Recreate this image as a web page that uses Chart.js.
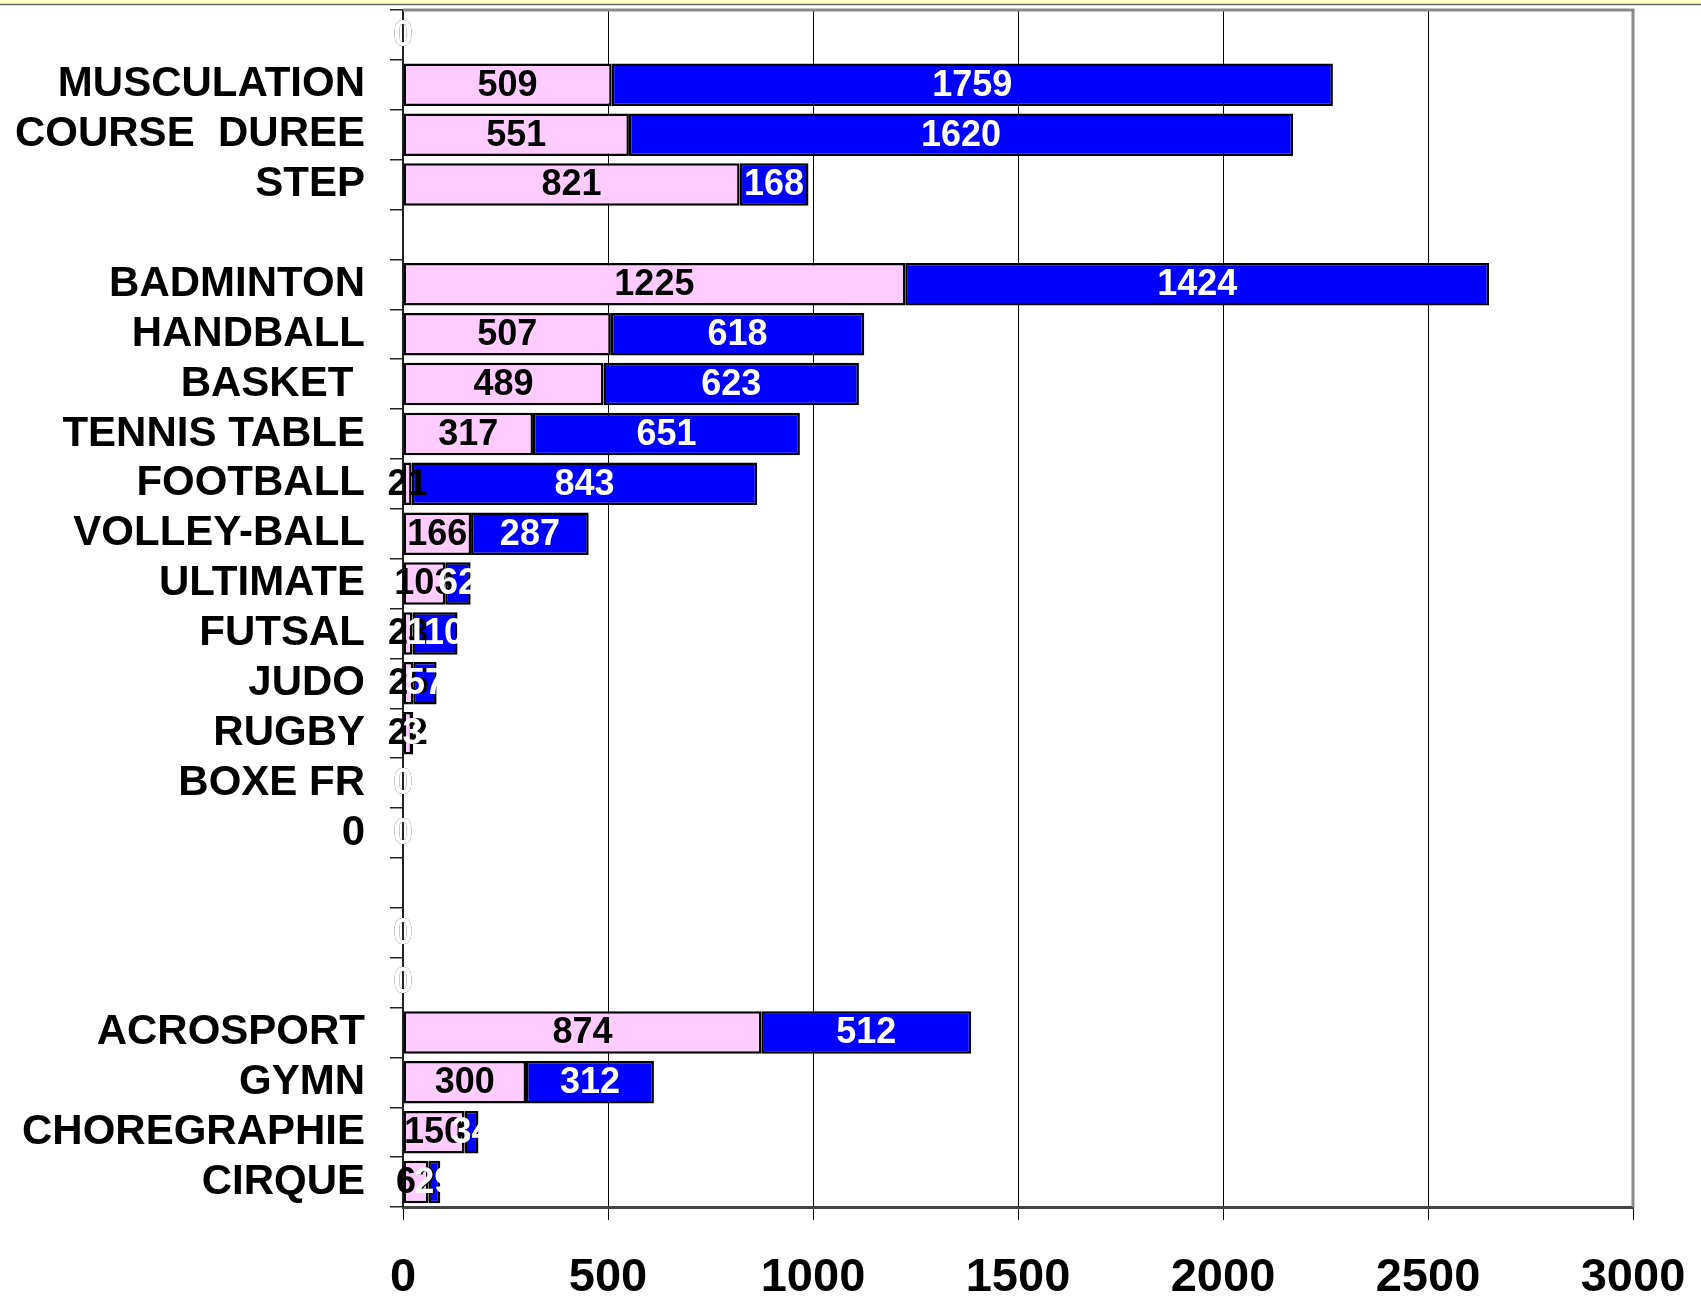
<!DOCTYPE html>
<html>
<head>
<meta charset="utf-8">
<script src="https://cdn.jsdelivr.net/npm/chart.js@4.4.1/dist/chart.umd.min.js"></script>
<style>
    body { margin: 0; background: #fff; }
    canvas { display: block; }
</style>
</head>
<body>
<canvas id="barChart" width="1701" height="1316"></canvas>
<script>
const categories = ["", "MUSCULATION", "COURSE  DUREE", "STEP", "", "BADMINTON", "HANDBALL", "BASKET ",
    "TENNIS TABLE", "FOOTBALL", "VOLLEY-BALL", "ULTIMATE", "FUTSAL", "JUDO", "RUGBY", "BOXE FR", "0",
    "", "", "", "ACROSPORT", "GYMN", "CHOREGRAPHIE", "CIRQUE"];
const pinkValues = [0, 509, 551, 821, null, 1225, 507, 489, 317, 21, 166, 103, 23, 25, 22, 0, 0,
    null, 0, 0, 874, 300, 150, 62];
const blueValues = [0, 1759, 1620, 168, null, 1424, 618, 623, 651, 843, 287, 62, 110, 57, 3, 0, 0,
    null, 0, 0, 512, 312, 34, 29];
const xTicks = [0, 500, 1000, 1500, 2000, 2500, 3000];

const FONT = "'Liberation Sans', Arial, sans-serif";

// yellow strip at top + grey frame on top/right of the plot
const framePlugin = {
    id: 'frame',
    beforeDraw: function (chart) {
        const c = chart.ctx;
        c.save();
        c.fillStyle = '#ffffcc';
        c.fillRect(0, 0, chart.width, 4);
        c.strokeStyle = '#666';
        c.lineWidth = 1.5;
        c.beginPath();
        c.moveTo(0, 4.5);
        c.lineTo(chart.width, 4.5);
        c.stroke();
        c.restore();
    },
    afterDraw: function (chart) {
        const a = chart.chartArea;
        const c = chart.ctx;
        c.save();
        c.strokeStyle = '#8a8a8a';
        c.lineWidth = 3;
        c.beginPath();
        c.moveTo(a.left, a.top);
        c.lineTo(a.right, a.top);
        c.lineTo(a.right, a.bottom);
        c.stroke();
        c.restore();
    }
};

// value labels centred in each segment
const valueLabels = {
    id: 'valueLabels',
    afterDatasetsDraw: function (chart) {
        const c = chart.ctx;
        c.save();
        c.font = "bold 36px " + FONT;
        c.textAlign = 'center';
        c.textBaseline = 'middle';
        chart.data.datasets.forEach(function (ds, di) {
            c.fillStyle = di === 0 ? '#000' : '#fff';
            chart.getDatasetMeta(di).data.forEach(function (bar, i) {
                const v = ds.data[i];
                if (v === null || v === undefined) return;
                const p = bar.getProps(['x', 'y', 'base'], true);
                c.fillText(String(v), (p.x + p.base) / 2, p.y + 1);
            });
        });
        c.restore();
    }
};

function noPadding(s) {
    s.paddingTop = 0;
    s.paddingBottom = 0;
    s.paddingLeft = 0;
    s.paddingRight = 0;
}

const ctx = document.getElementById("barChart").getContext("2d");

new Chart(ctx, {
    type: 'bar',
    data: {
        labels: categories,
        datasets: [
            {
                label: 'pink',
                data: pinkValues,
                backgroundColor: '#ffccff',
                borderColor: '#000',
                borderWidth: 2.5,
                borderSkipped: false,
                barPercentage: 0.85,
                categoryPercentage: 1
            },
            {
                label: 'blue',
                data: blueValues,
                backgroundColor: '#0000ff',
                borderColor: '#000',
                borderWidth: 2.5,
                borderSkipped: false,
                barPercentage: 0.85,
                categoryPercentage: 1
            }
        ]
    },
    options: {
        indexAxis: 'y',
        responsive: false,
        animation: false,
        layout: {
            padding: { top: 10, right: 68, left: 0, bottom: 0 }
        },
        scales: {
            x: {
                stacked: true,
                min: 0,
                max: 3000,
                afterFit: function (s) {
                    s.height = 109;
                    noPadding(s);
                },
                afterBuildTicks: function (s) {
                    s.ticks = xTicks.map(function (v) { return { value: v }; });
                },
                grid: {
                    color: '#000',
                    lineWidth: 1,
                    tickLength: 13
                },
                border: { color: '#444', width: 3 },
                ticks: {
                    autoSkip: false,
                    maxRotation: 0,
                    padding: 30,
                    color: '#000',
                    font: { size: 47, weight: 'bold', family: FONT },
                    callback: function (v) { return String(v); }
                }
            },
            y: {
                stacked: true,
                afterFit: function (s) {
                    s.width = 403;
                    noPadding(s);
                },
                grid: {
                    drawOnChartArea: false,
                    color: '#222',
                    lineWidth: 1.5,
                    tickLength: 13
                },
                border: { color: '#222', width: 2 },
                ticks: {
                    autoSkip: false,
                    padding: 25,
                    color: '#000',
                    font: { size: 42, weight: 'bold', family: FONT, lineHeight: 1 }
                }
            }
        },
        plugins: {
            legend: { display: false },
            tooltip: { enabled: false }
        }
    },
    plugins: [framePlugin, valueLabels]
});
</script>
</body>
</html>
